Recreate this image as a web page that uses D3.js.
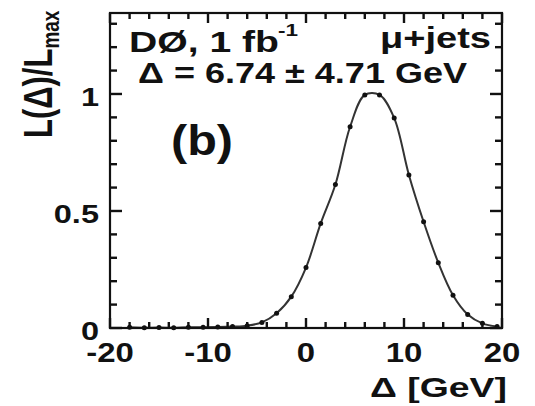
<!DOCTYPE html>
<html>
<head>
<meta charset="utf-8">
<script src="https://cdn.jsdelivr.net/npm/d3@7"></script>
<style>
  html, body { margin: 0; padding: 0; background: #fff; }
  svg { display: block; }
  text { font-family: "Liberation Sans", Arial, sans-serif; font-weight: bold; fill: #111; }
</style>
</head>
<body>
<svg id="chart" width="535" height="406"></svg>
<script>
// ---- data ----
const deltaValues = [-18, -16.5, -15, -13.5, -12, -10.5, -9, -7.5, -6, -4.5, -3, -1.5, 0, 1.5, 3, 4.5, 6, 7.5, 9, 10.5, 12, 13.5, 15, 16.5, 18, 19.5];
const likelihood  = [0.003, 0.001, 0.002, 0.001, 0.003, 0.003, 0.004, 0.006, 0.010, 0.024, 0.063, 0.134, 0.258, 0.447, 0.613, 0.860, 0.996, 0.996, 0.897, 0.654, 0.454, 0.279, 0.140, 0.058, 0.020, 0.006];
const xMajorTicks = [-20, -10, 0, 10, 20];
const xMinorTicks = [-18, -16, -14, -12, -8, -6, -4, -2, 2, 4, 6, 8, 12, 14, 16, 18];
const yMajorTicks = [0, 0.5, 1];
const yMinorTicks = [0.1, 0.2, 0.3, 0.4, 0.6, 0.7, 0.8, 0.9, 1.1, 1.2, 1.3];
const xTickLabels = ["-20", "-10", "0", "10", "20"];
const yTickLabels = ["0", "0.5", "1"];

const svg = d3.select("#chart");
const L = 110, R = 502, T = 13, B = 328;
const x = d3.scaleLinear().domain([-20, 20]).range([L, R]);
const y = d3.scaleLinear().domain([0, 1.346]).range([B, T]);

function stretch(sel, factor) {
  sel.each(function () {
    const w = this.getComputedTextLength();
    d3.select(this).attr("textLength", w * factor).attr("lengthAdjust", "spacingAndGlyphs");
  });
}
function fitWidth(sel, width) {
  sel.attr("textLength", width).attr("lengthAdjust", "spacingAndGlyphs");
}

// ---- curve and points ----
const pts = deltaValues.map((d, i) => [d, likelihood[i]]);
svg.append("path")
  .datum(pts)
  .attr("fill", "none")
  .attr("stroke", "#333")
  .attr("stroke-width", 2)
  .attr("d", d3.line().x(d => x(d[0])).y(d => y(d[1])).curve(d3.curveCatmullRom));

svg.append("g").selectAll("circle")
  .data(pts).join("circle")
  .attr("cx", d => x(d[0])).attr("cy", d => y(d[1]))
  .attr("r", 2.5).attr("fill", "#111");

// ---- tick labels ----
const xl = svg.append("g").selectAll("text").data(xMajorTicks).join("text")
  .attr("x", d => x(d)).attr("y", 362)
  .attr("text-anchor", "middle").attr("font-size", 27)
  .text((d, i) => xTickLabels[i]);
stretch(xl, 1.22);
const yl = svg.append("g").selectAll("text").data(yMajorTicks).join("text")
  .attr("x", 99).attr("y", d => y(d) + 12)
  .attr("text-anchor", "end").attr("font-size", 26)
  .text((d, i) => yTickLabels[i]);
stretch(yl, 1.25);

// frame
svg.append("rect").attr("x", L).attr("y", T).attr("width", R - L).attr("height", B - T)
  .attr("fill", "none").attr("stroke", "#111").attr("stroke-width", 2.2);

// ---- ticks (inward, on all four sides) ----
const tickG = svg.append("g");
function tickLine(sel) {
  return sel.attr("stroke", "#111").attr("stroke-width", 2.4).attr("stroke-linecap", "butt");
}
function xTicks(vals, len) {
  tickG.append("g").selectAll("line").data(vals).join("line")
    .attr("x1", d => x(d)).attr("x2", d => x(d)).attr("y1", B).attr("y2", B - len).call(tickLine);
  tickG.append("g").selectAll("line").data(vals).join("line")
    .attr("x1", d => x(d)).attr("x2", d => x(d)).attr("y1", T).attr("y2", T + len).call(tickLine);
}
function yTicks(vals, len) {
  tickG.append("g").selectAll("line").data(vals).join("line")
    .attr("y1", d => y(d)).attr("y2", d => y(d)).attr("x1", L).attr("x2", L + len).call(tickLine);
  tickG.append("g").selectAll("line").data(vals).join("line")
    .attr("y1", d => y(d)).attr("y2", d => y(d)).attr("x1", R).attr("x2", R - len).call(tickLine);
}
xTicks(xMinorTicks, 6);
xTicks(xMajorTicks, 10);
yTicks(yMinorTicks, 7);
yTicks(yMajorTicks, 12);

// ---- texts ----
svg.append("text").attr("x", 129).attr("y", 52).attr("font-size", 30)
  .text("DØ, 1 fb").call(fitWidth, 150);
svg.append("text").attr("x", 278).attr("y", 36).attr("font-size", 16)
  .text("-1").call(fitWidth, 20);
svg.append("text").attr("x", 491).attr("y", 48).attr("font-size", 29)
  .attr("text-anchor", "end").text("μ+jets").call(fitWidth, 111);
svg.append("text").attr("x", 138).attr("y", 83).attr("font-size", 29)
  .text("Δ = 6.74 ± 4.71 GeV").call(fitWidth, 329);
svg.append("text").attr("x", 171).attr("y", 155).attr("font-size", 42)
  .text("(b)").call(fitWidth, 62);
svg.append("text").attr("x", 370).attr("y", 397).attr("font-size", 28)
  .text("Δ [GeV]").call(fitWidth, 137);

// y title (rotated, glyphs stretched)
const yt = svg.append("text")
  .attr("transform", "translate(52,138) scale(1.3,1) rotate(-90)")
  .attr("font-size", 31);
yt.append("tspan").text("L(Δ)/L");
yt.append("tspan").attr("font-size", 19).attr("dy", 5).text("max");
</script>
</body>
</html>
